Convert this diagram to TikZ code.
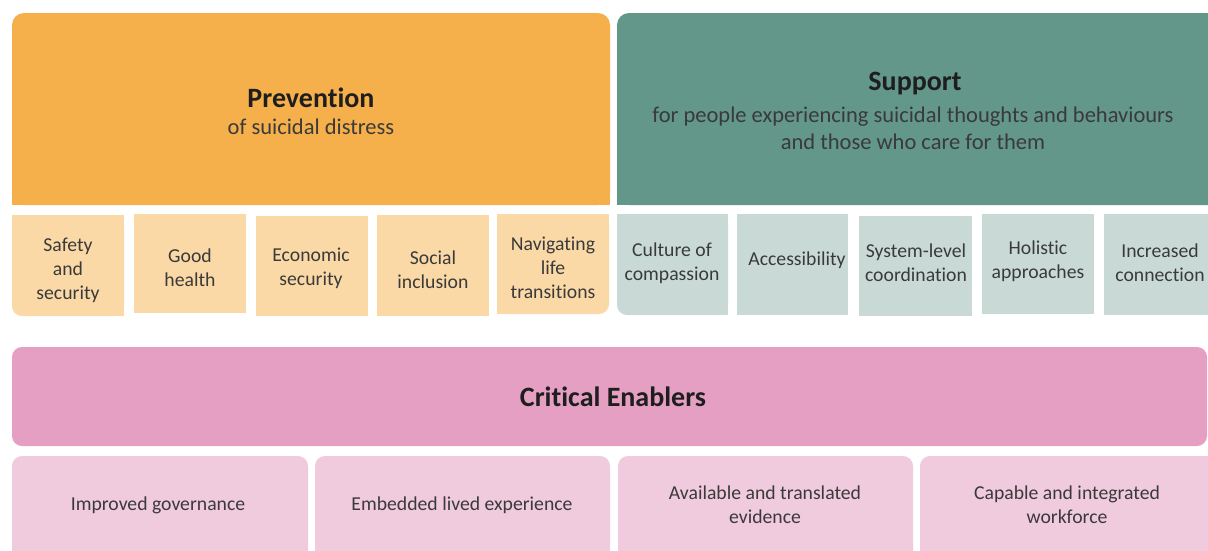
\documentclass[tikz,border=0pt]{standalone}
\usepackage{fontspec}
\setmainfont{Carlito}[Ligatures=NoCommon]
\definecolor{prevC}{HTML}{F6B04B}
\definecolor{prevL}{HTML}{FAD9A7}
\definecolor{suppC}{HTML}{63978A}
\definecolor{suppL}{HTML}{C9DAD6}
\definecolor{enabC}{HTML}{E49FC3}
\definecolor{enabL}{HTML}{F0CADD}
\definecolor{txtC}{HTML}{3A3A3A}
\definecolor{ttlC}{HTML}{1E1E1E}
\begin{document}
\begin{tikzpicture}[x=1pt,y=-1pt,
  lbl/.style={align=center, font=\fontsize{19.7}{24}\selectfont, text=txtC, inner sep=0pt},
  ttl/.style={align=center, font=\fontsize{28}{30}\selectfont\bfseries, text=ttlC, inner sep=0pt},
  sub/.style={align=center, font=\fontsize{22.5}{27}\selectfont, text=txtC, inner sep=0pt}]
\useasboundingbox (0,0) rectangle (1208,550);
\clip (0,0) rectangle (1208,550);
\fill[white] (0,0) rectangle (1208,550);

% Prevention header
\fill[prevC, rounded corners=12] (12,13) rectangle (610,205);
\fill[prevC] (12,100) rectangle (610,205);
% Support header
\fill[suppC, rounded corners=12] (617,13) rectangle (1230,205);
\fill[suppC] (617,100) rectangle (1230,205);

% Prevention sub-boxes
\fill[prevL, rounded corners=10] (12,215) rectangle (124,316);
\fill[prevL] (12,215) rectangle (124,280);
\fill[prevL] (60,215) rectangle (124,316);
\fill[prevL] (134,214) rectangle (246,313);
\fill[prevL] (256,216) rectangle (368,316);
\fill[prevL] (377,215) rectangle (489,316);
\fill[prevL, rounded corners=10] (497,214) rectangle (609,314);
\fill[prevL] (497,214) rectangle (609,280);
\fill[prevL] (497,214) rectangle (560,314);

% Support sub-boxes
\fill[suppL, rounded corners=10] (617,214) rectangle (728,315);
\fill[suppL] (617,214) rectangle (728,280);
\fill[suppL] (660,214) rectangle (728,315);
\fill[suppL] (737,214) rectangle (848,315);
\fill[suppL] (859,216) rectangle (972,316);
\fill[suppL] (982,214) rectangle (1094,314);
\fill[suppL] (1104,214) rectangle (1230,315);

% Critical enablers
\fill[enabC, rounded corners=10] (12,347) rectangle (1207,446);
\fill[enabL, rounded corners=10] (12,456) rectangle (308,580);
\fill[enabL, rounded corners=10] (315,456) rectangle (610,580);
\fill[enabL, rounded corners=10] (618,456) rectangle (913,580);
\fill[enabL, rounded corners=10] (920,456) rectangle (1220,580);

% Texts
\node[ttl] (prev) at (311,98) {Prevention};
\node[sub] (prevsub) at (311,127) {of suicidal distress};
\node[ttl] (supp) at (915,84) {Support};
\node[sub] (suppsub) at (913,128) {for people experiencing suicidal thoughts and behaviours\\and those who care for them};

\node[lbl] (safety) at (68,270) {Safety\\and\\security};
\node[lbl] (health) at (190,268) {Good\\health};
\node[lbl] (econ) at (311,268) {Economic\\security};
\node[lbl] (social) at (433,270) {Social\\inclusion};
\node[lbl] (navig) at (553,268) {Navigating\\life\\transitions};

\node[lbl] (culture) at (672,263) {Culture of\\compassion};
\node[lbl] (access) at (797,260) {Accessibility};
\node[lbl] (system) at (916,263) {System-level\\coordination};
\node[lbl] (holist) at (1038,261) {Holistic\\approaches};
\node[lbl] (increase) at (1160,263) {Increased\\connection};

\node[ttl] (enab) at (613,397) {Critical Enablers};
\node[lbl] (gov) at (158,505) {Improved governance};
\node[lbl] (lived) at (462,505) {Embedded lived experience};
\node[lbl] (evid) at (765,505) {Available and translated\\evidence};
\node[lbl] (work) at (1067,505) {Capable and integrated\\workforce};
\end{tikzpicture}
\end{document}
